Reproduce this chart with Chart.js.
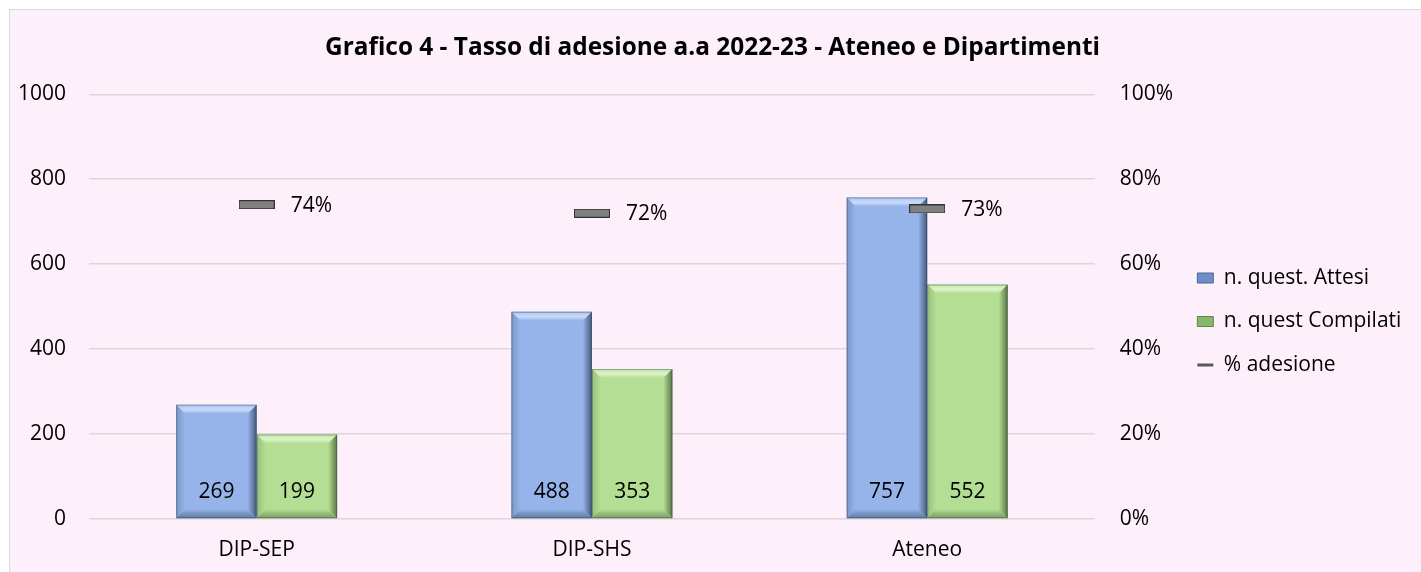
<!DOCTYPE html>
<html>
<head>
<meta charset="utf-8">
<title>Grafico 4 - Tasso di adesione</title>
<script src="https://cdn.jsdelivr.net/npm/chart.js@4.4.0/dist/chart.umd.min.js"></script>
<style>
  html, body { margin: 0; padding: 0; background: #ffffff; overflow: hidden; }
  #cornice {
    position: absolute; left: 9px; top: 9px; width: 1412px; height: 563px;
    background: #FDF0FA; border-left: 1px solid #D9D9D9; border-top: 1px solid #D9D9D9;
    box-sizing: border-box;
  }
  #box { position: absolute; left: 0; top: 0; width: 1411px; height: 562px; }
</style>
</head>
<body>
<div id="cornice"><div id="box"><canvas id="myChart"></canvas></div></div>
<script>
// Dati del grafico
var categorie = ["DIP-SEP", "DIP-SHS", "Ateneo"];
var questAttesi = [269, 488, 757];
var questCompilati = [199, 353, 552];
var adesione = [74, 72, 73]; // percentuali
var tickSinistra = [0, 200, 400, 600, 800, 1000];
var tickDestra = [0, 20, 40, 60, 80, 100];

var FONT = "'Open Sans', 'Noto Sans', sans-serif";
Chart.defaults.font.family = FONT;
Chart.defaults.font.size = 21;
Chart.defaults.color = "#000000";

// Marcatore grigio per la % adesione
var marker = document.createElement("canvas");
marker.width = 36;
marker.height = 9;
var mctx = marker.getContext("2d");
mctx.fillStyle = "#808080";
mctx.fillRect(0, 0, 36, 9);
mctx.strokeStyle = "#333333";
mctx.lineWidth = 1;
mctx.strokeRect(0.5, 0.5, 35, 8);

// colori delle barre: faccia, bordo alto, lato sinistro, lato destro, fondo
var stili = [
  { faccia: "#96B4E9", alto: "#A9C3F0", luce: "#C9DCFA", sx: "#7C97C8", dx: "#46587A", basso: "#62799F" },
  { faccia: "#B4DE94", alto: "#C3E6A8", luce: "#DCF4C8", sx: "#99BF7C", dx: "#5A7447", basso: "#7C9B66" }
];

function trapezio(ctx, punti, colore) {
  ctx.beginPath();
  ctx.moveTo(punti[0][0], punti[0][1]);
  for (var i = 1; i < punti.length; i++) ctx.lineTo(punti[i][0], punti[i][1]);
  ctx.closePath();
  ctx.fillStyle = colore;
  ctx.fill();
}

// effetto rilievo sulle barre
var smussoPlugin = {
  id: "smusso",
  afterDatasetDraw: function (chart, args) {
    var meta = args.meta;
    if (meta.type !== "bar") return;
    var st = stili[args.index];
    var ctx = chart.ctx;
    ctx.save();
    meta.data.forEach(function (el) {
      var p = el.getProps(["x", "y", "width", "base"], true);
      var l = p.x - p.width / 2, r = p.x + p.width / 2, t = p.y, b = p.base;
      var s = 9;
      var gAlto = ctx.createLinearGradient(0, t, 0, t + s);
      gAlto.addColorStop(0, st.alto);
      gAlto.addColorStop(0.55, st.luce);
      gAlto.addColorStop(1, st.faccia);
      trapezio(ctx, [[l, t], [r, t], [r - s, t + s], [l + s, t + s]], gAlto);
      var gSx = ctx.createLinearGradient(l, 0, l + s, 0);
      gSx.addColorStop(0, st.sx);
      gSx.addColorStop(1, st.faccia);
      trapezio(ctx, [[l, t], [l + s, t + s], [l + s, b - s], [l, b]], gSx);
      var gDx = ctx.createLinearGradient(r - s, 0, r, 0);
      gDx.addColorStop(0, st.faccia);
      gDx.addColorStop(0.3, st.sx);
      gDx.addColorStop(1, st.dx);
      trapezio(ctx, [[r, t], [r - s, t + s], [r - s, b - s], [r, b]], gDx);
      var gBasso = ctx.createLinearGradient(0, b - s, 0, b);
      gBasso.addColorStop(0, st.faccia);
      gBasso.addColorStop(0.4, st.sx);
      gBasso.addColorStop(1, st.basso);
      trapezio(ctx, [[l, b], [l + s, b - s], [r - s, b - s], [r, b]], gBasso);
      ctx.strokeStyle = "rgba(50,60,80,0.4)";
      ctx.lineWidth = 1;
      ctx.strokeRect(l + 0.5, t + 0.5, p.width - 1, b - t - 1);
    });
    ctx.restore();
  }
};

// etichette dei valori
var etichettePlugin = {
  id: "etichette",
  afterDatasetsDraw: function (chart) {
    var ctx = chart.ctx;
    ctx.save();
    ctx.font = "21px " + FONT;
    ctx.fillStyle = "#000000";
    ctx.textBaseline = "middle";
    chart.data.datasets.forEach(function (ds, i) {
      var meta = chart.getDatasetMeta(i);
      meta.data.forEach(function (el, j) {
        if (meta.type === "bar") {
          ctx.textAlign = "center";
          ctx.fillText(ds.data[j], el.x, el.base - 26);
        } else {
          ctx.textAlign = "left";
          ctx.fillText(ds.data[j] + "%", el.x + 34, el.y + 1);
        }
      });
    });
    ctx.restore();
  }
};

var ctx = document.getElementById("myChart").getContext("2d");

var data = {
  labels: categorie,
  datasets: [
    {
      label: "n. quest. Attesi",
      data: questAttesi,
      backgroundColor: stili[0].faccia,
      yAxisID: "y",
      order: 1,
      categoryPercentage: 0.48,
      barPercentage: 1.0
    },
    {
      label: "n. quest Compilati",
      data: questCompilati,
      backgroundColor: stili[1].faccia,
      yAxisID: "y",
      order: 1,
      categoryPercentage: 0.48,
      barPercentage: 1.0
    },
    {
      type: "line",
      label: "% adesione",
      data: adesione,
      yAxisID: "y1",
      showLine: false,
      pointStyle: marker,
      order: 0
    }
  ]
};

var myChart = new Chart(ctx, {
  type: "bar",
  data: data,
  plugins: [smussoPlugin, etichettePlugin],
  options: {
    responsive: true,
    maintainAspectRatio: false,
    animation: false,
    layout: { padding: { left: 9, right: 15, top: 0, bottom: 0 } },
    plugins: {
      title: {
        display: true,
        text: "Grafico 4 - Tasso di adesione a.a 2022-23 - Ateneo e Dipartimenti",
        font: { size: 24.4, weight: "bold" },
        color: "#000000",
        padding: { top: 23, bottom: 32 }
      },
      legend: {
        position: "right",
        title: { display: true, text: "", font: { size: 10 }, padding: { top: 49, bottom: 0 } },
        labels: {
          usePointStyle: true,
          pointStyleWidth: 16,
          boxHeight: 10,
          padding: 22.5,
          font: { size: 21 },
          color: "#000000",
          generateLabels: function (chart) {
            return [
              { text: "n. quest. Attesi", fillStyle: "#6F8DC6", strokeStyle: "#4A6594", lineWidth: 1, pointStyle: "rect", datasetIndex: 0 },
              { text: "n. quest Compilati", fillStyle: "#86B66A", strokeStyle: "#5E8646", lineWidth: 1, pointStyle: "rect", datasetIndex: 1 },
              { text: "% adesione", fillStyle: "#595959", strokeStyle: "#595959", lineWidth: 3, pointStyle: "line", datasetIndex: 2 }
            ];
          }
        }
      },
      tooltip: { enabled: false }
    },
    scales: {
      x: {
        grid: { display: false, drawTicks: false },
        border: { display: false },
        ticks: { padding: 18 },
        afterFit: function (scale) { scale.height = 53; }
      },
      y: {
        position: "left",
        min: 0,
        max: 1000,
        afterBuildTicks: function (axis) {
          axis.ticks = tickSinistra.map(function (v) { return { value: v }; });
        },
        grid: { color: "#D9D9D9", lineWidth: 1.5, drawTicks: false },
        border: { display: false },
        ticks: {
          padding: 23,
          callback: function (v) { return String(v); }
        },
        afterFit: function (scale) { scale.width = 70; }
      },
      y1: {
        position: "right",
        min: 0,
        max: 100,
        afterBuildTicks: function (axis) {
          axis.ticks = tickDestra.map(function (v) { return { value: v }; });
        },
        grid: { display: false, drawTicks: false },
        border: { display: false },
        ticks: {
          padding: 25,
          callback: function (v) { return v + "%"; }
        },
        afterFit: function (scale) { scale.width = 80; }
      }
    }
  }
});
</script>
</body>
</html>
